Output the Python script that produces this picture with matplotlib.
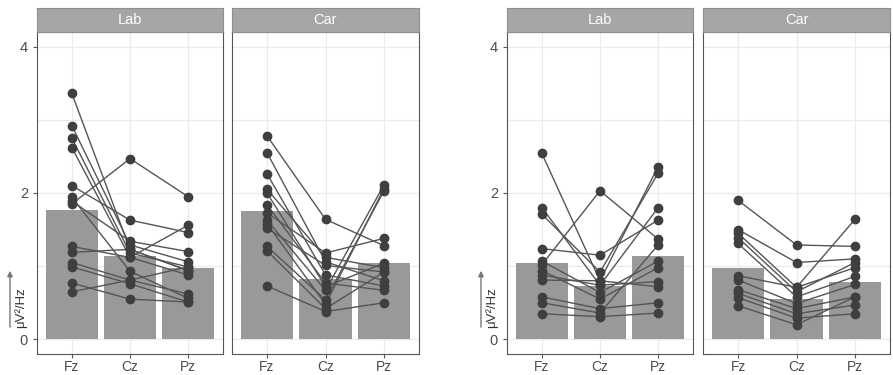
import numpy as np
import matplotlib.pyplot as plt
from matplotlib.patches import FancyArrowPatch

plt.rcParams['font.family'] = ['Liberation Sans', 'DejaVu Sans']

channels = ["Fz", "Cz", "Pz"]
conditions = ["Lab", "Car"]

# left group, Lab
left_lab_fz = [3.36, 2.92, 2.75, 2.62, 2.10, 1.85, 1.89, 1.94, 1.27, 1.19, 1.05, 0.99, 0.77, 0.65]
left_lab_cz = [1.23, 1.29, 1.18, 1.12, 1.63, 2.47, 1.34, 0.93, 1.12, 1.23, 0.81, 0.76, 0.55, 0.81]
left_lab_pz = [0.94, 1.06, 0.99, 0.88, 1.46, 1.95, 1.20, 0.56, 1.56, 0.94, 0.62, 0.51, 0.51, 0.99]
left_lab_bar = [1.77, 1.14, 0.97]

# left group, Car
left_car_fz = [2.78, 2.55, 2.26, 2.05, 2.00, 1.84, 1.73, 1.63, 1.58, 1.52, 1.27, 1.21, 0.73]
left_car_cz = [1.64, 1.06, 0.88, 1.12, 0.72, 0.77, 1.18, 0.67, 0.48, 1.01, 0.54, 0.42, 0.38]
left_car_pz = [1.28, 0.80, 0.73, 0.98, 1.04, 0.67, 1.38, 2.11, 2.06, 0.92, 2.03, 0.92, 0.50]
left_car_bar = [1.76, 0.82, 1.05]

# right group, Lab
right_lab_fz = [2.54, 1.80, 1.71, 1.24, 1.02, 1.07, 0.94, 0.88, 0.81, 0.58, 0.50, 0.35]
right_lab_cz = [0.80, 0.74, 0.92, 1.15, 2.03, 0.64, 0.55, 0.74, 0.80, 0.42, 0.36, 0.31]
right_lab_pz = [2.36, 1.80, 2.27, 1.63, 1.37, 1.07, 0.98, 0.79, 0.72, 0.50, 1.29, 0.36]
right_lab_bar = [1.04, 0.73, 1.14]

# right group, Car
right_car_fz = [1.90, 1.50, 1.45, 1.39, 1.31, 0.87, 0.81, 0.68, 0.63, 0.57, 0.46]
right_car_cz = [1.29, 1.05, 0.71, 0.65, 0.58, 0.71, 0.49, 0.42, 0.35, 0.29, 0.20]
right_car_pz = [1.27, 1.10, 0.98, 1.05, 0.86, 1.64, 0.75, 0.58, 0.47, 0.35, 0.58]
right_car_bar = [0.98, 0.55, 0.79]

panels = [
    (conditions[0], left_lab_fz, left_lab_cz, left_lab_pz, left_lab_bar),
    (conditions[1], left_car_fz, left_car_cz, left_car_pz, left_car_bar),
    (conditions[0], right_lab_fz, right_lab_cz, right_lab_pz, right_lab_bar),
    (conditions[1], right_car_fz, right_car_cz, right_car_pz, right_car_bar),
]

W, H = 893, 375
# panel boxes in pixels: (left, right)
boxes = [(37, 223), (232, 419), (507, 693), (703, 890)]
top_px, bot_px, strip_top = 32, 354, 8

BAR = "#999999"
PT = "#3f3f3f"
LINE = "#555555"
TXT = "#4d4d4d"
GRID = "#ebebeb"

fig = plt.figure(figsize=(W / 100, H / 100), dpi=100)

for i, ((name, fz, cz, pz, bar), (l, r)) in enumerate(zip(panels, boxes)):
    ax = fig.add_axes([l / W, (H - bot_px) / H, (r - l) / W, (bot_px - top_px) / H])
    x = np.arange(1, 4)
    ax.bar(x, bar, width=0.9, color=BAR, zorder=2)
    subj = np.array([fz, cz, pz]).T
    for row in subj:
        ax.plot(x, row, color=LINE, lw=1.0, zorder=3)
        ax.plot(x, row, 'o', color=PT, ms=6, zorder=4)
    ax.set_xlim(0.4, 3.6)
    ax.set_ylim(-0.2, 4.2)
    ax.set_xticks(x)
    ax.set_xticklabels(channels)
    ax.set_yticks([0, 2, 4])
    ax.set_yticks([1, 3], minor=True)
    ax.grid(True, which='both', color=GRID, lw=0.9, zorder=0)
    ax.set_axisbelow(True)
    for s in ax.spines.values():
        s.set_color("#555555")
        s.set_linewidth(0.8)
    ax.tick_params(axis='both', which='major', colors="#555555", labelcolor=TXT,
                   labelsize=10.5, length=3, width=0.8)
    ax.tick_params(axis='x', pad=1.5, labelsize=10)
    ax.tick_params(axis='y', which='minor', length=0)
    if i in (1, 3):
        ax.tick_params(axis='y', labelleft=False, length=0)
    # facet strip
    sax = fig.add_axes([l / W, (H - top_px) / H, (r - l) / W, (top_px - strip_top) / H])
    sax.set_facecolor("#a6a6a6")
    sax.set_xticks([])
    sax.set_yticks([])
    for s in sax.spines.values():
        s.set_color("#8f8f8f")
        s.set_linewidth(0.8)
    sax.text(0.5, 0.5, name, color="white", fontsize=10.5, ha='center', va='center',
             transform=sax.transAxes)

# y-axis labels with arrows for each group
for ax_x, txt_x in [(10, 21), (481, 492)]:
    arr = FancyArrowPatch((ax_x / W, (H - 330) / H), (ax_x / W, (H - 268) / H),
                          transform=fig.transFigure, arrowstyle='-|>', mutation_scale=8,
                          color="#777777", lw=1.0)
    fig.patches.append(arr)
    fig.text(txt_x / W, (H - 308) / H, "μV²/Hz", rotation=90, fontsize=9.5, color="#333333",
             ha='center', va='center')

fig.savefig("out.png", dpi=100)
